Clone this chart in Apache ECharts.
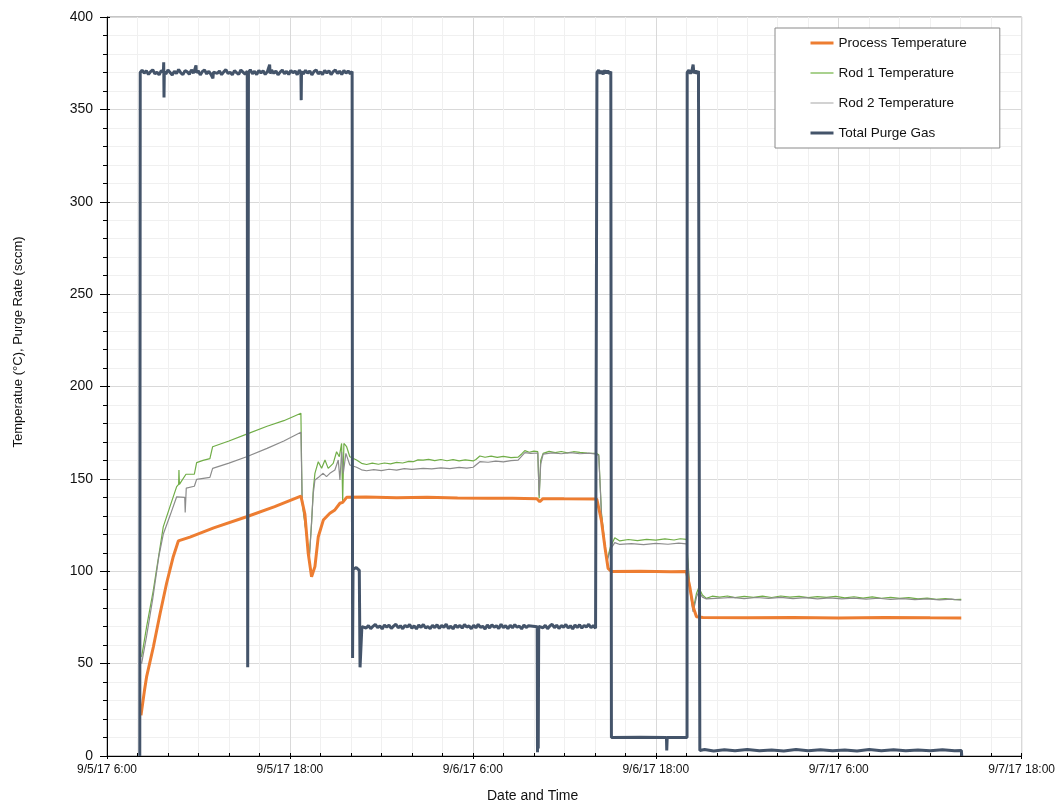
<!DOCTYPE html>
<html>
<head>
<meta charset="utf-8">
<script src="https://cdn.jsdelivr.net/npm/echarts@6/dist/echarts.min.js"></script>
<style>html,body{margin:0;padding:0;background:#fff}#c{width:1058px;height:805px}</style>
</head>
<body>
<div id="c"></div>
<script>
// x values: hours elapsed since 9/5/17 6:00
var xTickLabels = ['9/5/17 6:00', '9/5/17 18:00', '9/6/17 6:00', '9/6/17 18:00', '9/7/17 6:00', '9/7/17 18:00'];
var seriesNames = ['Process Temperature', 'Rod 1 Temperature', 'Rod 2 Temperature', 'Total Purge Gas'];

var processTemp = [
  [2.23,22],[2.45,35],[2.6,43],[3.04,59],[3.48,77],[3.91,93.5],[4.35,108],[4.68,116.4],[5.44,118.5],
  [7.0,123.5],[9.16,129.5],[11.0,135],[12.72,140.7],[12.98,131],[13.2,109.7],[13.42,97],[13.64,102.5],
  [13.86,118.7],[14.19,127.7],[14.62,131.4],[14.95,133.2],[15.28,136.8],[15.46,137.3],[15.72,140],
  [17,140.2],[19,139.8],[21,140],[23,139.7],[25,139.5],[26.6,139.5],[28.2,139.3],[28.39,137.6],[28.6,139.3],
  [30,139.2],[32.13,139.1],[32.2,139.1],[32.43,127.7],[32.66,113.3],[32.87,101.6],[33.1,99.8],[35,100],
  [37,99.7],[38.01,99.8],[38.23,91.6],[38.45,80.8],[38.67,75.4],[39.1,75],[42,74.8],[45,75],[48,74.7],
  [51,75],[54,74.8],[56.04,74.7]
];

var rod1Temp = [
  [2.27,53.7],[2.6,70],[3.04,89.8],[3.69,124],[4.13,135],[4.57,145.8],[4.7,147],[4.72,154.8],[4.75,147],
  [5.18,152.5],[5.73,152.5],[5.88,158.8],[6.3,160],[6.75,161],[6.93,167.4],[8.0,170.5],[9.16,174.2],
  [10.5,178.5],[11.6,181.5],[12.72,185.5],[12.8,137],[13.27,108],[13.42,125.9],[13.53,144],[13.64,153],
  [13.86,159.3],[14.08,155.7],[14.3,160.2],[14.51,155.7],[14.84,158.4],[15.06,164.7],[15.24,162],[15.39,169.2],
  [15.46,137.6],[15.54,169.2],[15.72,167.4],[15.93,162],[16.37,160.2],[16.7,158.4],[17.03,157.8],[17.4,158.5],
  [17.8,157.9],[18.2,158.6],[18.6,158.1],[19.0,158.9],[19.4,158.6],[19.8,159.5],[20.09,159.3],[20.4,160.3],
  [20.74,160.1],[21.1,160.6],[21.5,159.9],[21.9,160.5],[22.3,159.8],[22.7,160.4],[23.1,159.7],[23.5,160.3],
  [24.02,159.7],[24.2,160.5],[24.46,162.4],[24.8,161.7],[25.2,162.3],[25.6,161.6],[26.0,162.2],[26.5,161.5],
  [26.97,161.8],[27.2,163.5],[27.41,165.3],[27.7,164.4],[28.0,165.0],[28.26,164.7],[28.35,139.5],[28.45,160],
  [28.61,163.8],[29.0,164.9],[29.4,164.2],[29.8,164.8],[30.2,164.1],[30.6,164.7],[31.02,164.3],[31.5,164.0],
  [32.11,163.8],[32.26,163],[32.44,131.4],[32.72,109.7],[32.83,107],[33.03,113.3],[33.31,118.1],[33.64,116.4],
  [34.2,117.2],[34.8,116.6],[35.4,117.3],[36.0,116.8],[36.6,117.5],[37.2,116.9],[37.6,117.6],[38.01,117.3],
  [38.08,117.3],[38.23,91.6],[38.45,79],[38.67,88],[38.82,91.2],[39.06,87.1],[39.32,85.3],[39.7,86.5],
  [40.2,86.0],[40.7,86.6],[41.2,85.7],[41.8,86.4],[42.4,85.9],[43,86.5],[43.6,85.8],[44.2,86.6],[44.8,86.0],
  [45.4,86.4],[46,85.7],[46.6,86.3],[47.2,85.9],[47.8,86.4],[48.4,85.6],[49,86.2],[49.6,85.5],[50.2,86.1],
  [50.8,85.4],[51.4,85.9],[52,85.3],[52.6,85.7],[53.2,85.0],[53.8,85.5],[54.4,84.8],[55,85.2],[55.6,84.6],
  [56.04,84.8]
];

var rod2Temp = [
  [2.27,50],[2.6,65],[3.0,85],[3.4,108],[3.69,120],[4.13,130],[4.57,140.3],[5.1,140],[5.13,131.8],[5.2,145],
  [5.73,146],[5.88,149.7],[6.75,150.8],[6.93,155.7],[8.0,158.5],[9.16,162],[10.5,166.5],[11.6,170.5],
  [12.72,175.2],[12.8,140],[13.27,106],[13.53,142],[13.64,149.4],[13.92,151.2],[14.18,153],[14.4,151.2],
  [14.62,153],[14.95,154.8],[15.17,160.2],[15.28,149.4],[15.39,164.7],[15.5,153],[15.67,163.8],[15.93,157.5],
  [16.37,156.3],[16.7,154.9],[17.03,154.4],[17.5,155.0],[18.0,154.5],[18.5,155.2],[19.0,154.7],[19.5,155.5],
  [20.0,155.1],[20.74,155.7],[21.3,155.4],[21.9,156.0],[22.5,155.5],[23.1,156.2],[23.6,155.8],[24.02,156.3],
  [24.46,159.3],[25.0,159.0],[25.5,159.6],[26.0,159.2],[26.5,159.9],[26.97,160.2],[27.41,164.2],[27.8,163.8],
  [28.26,164],[28.35,141],[28.45,158],[28.61,163.4],[29.2,164.1],[29.8,163.6],[30.4,164.2],[31.02,163.6],
  [31.6,163.9],[32.11,163.4],[32.26,162.5],[32.44,130],[32.72,110],[32.83,106],[33.03,112],[33.31,115.5],
  [33.64,114.5],[34.4,115.0],[35.2,114.4],[36.0,115.1],[36.8,114.6],[37.5,115.2],[38.01,114.8],[38.23,90],
  [38.45,78],[38.67,86],[38.82,89],[39.06,86],[39.32,85],[40.2,85.4],[41,85.9],[41.8,85.2],[42.6,85.8],
  [43.4,85.3],[44.2,85.9],[45,85.2],[45.8,85.7],[46.6,85.1],[47.4,85.6],[48.2,85.0],[49,85.5],[49.8,84.9],
  [50.6,85.4],[51.4,84.8],[52.2,85.2],[53,84.6],[53.8,85.1],[54.6,84.5],[55.4,84.9],[56.04,84.3]
];

var purgeGas = [
  [2.15,0],[2.18,370],[2.30,371.2],[2.44,369.6],[2.58,370.9],[2.72,368.9],[2.86,370.4],[3.00,371.4],[3.14,369.3],
  [3.28,370.1],[3.42,368.7],[3.56,371.0],[3.70,370.2],[3.72,375.5],[3.74,356.5],[3.76,370.4],[3.86,369.1],
  [4.00,371.3],[4.14,370.0],[4.28,368.6],[4.42,370.7],[4.56,369.4],[4.70,371.6],[4.84,369.8],[4.98,368.8],
  [5.12,371.0],[5.26,370.3],[5.40,369.0],[5.54,371.4],[5.68,369.6],[5.84,373.8],[5.86,369.8],[5.98,370.9],
  [6.12,368.7],[6.26,370.5],[6.40,371.3],[6.54,369.2],[6.68,370.6],[6.82,368.9],[6.95,366.8],[6.98,370.2],
  [7.10,371.2],[7.24,369.5],[7.38,370.8],[7.52,368.8],[7.66,370.3],[7.80,371.5],[7.94,369.4],[8.08,370.1],
  [8.22,368.7],[8.36,371.0],[8.50,369.9],[8.64,368.9],[8.78,371.3],[8.92,370.2],[9.06,369.1],[9.20,370.7],
  [9.23,48],[9.26,48],[9.28,370.0],[9.40,371.4],[9.54,369.3],[9.68,370.6],[9.82,368.8],[9.96,371.1],
  [10.10,369.7],[10.24,370.9],[10.38,368.9],[10.52,370.4],[10.67,374.2],[10.70,369.4],[10.80,371.2],
  [10.94,369.5],[11.08,370.8],[11.22,368.7],[11.36,370.2],[11.50,371.3],[11.64,369.3],[11.78,370.6],
  [11.92,368.9],[12.06,371.0],[12.20,369.8],[12.34,370.7],[12.48,368.8],[12.62,371.2],[12.72,370.0],
  [12.74,355],[12.76,370.3],[12.88,369.2],[13.02,371.1],[13.16,369.6],[13.30,370.8],[13.44,368.7],
  [13.58,370.5],[13.72,371.4],[13.86,369.2],[14.00,370.3],[14.14,368.9],[14.28,371.1],[14.42,369.7],
  [14.56,370.9],[14.70,368.8],[14.84,370.4],[14.98,371.3],[15.12,369.4],[15.26,370.7],[15.40,368.9],
  [15.54,371.0],[15.68,369.6],[15.82,370.8],[15.96,369.3],[16.08,370.5],
  [16.11,53],[16.14,101],[16.35,102],[16.55,100.5],[16.6,48],[16.66,48],
  [16.72,70],[16.85,71.0],[17.00,69.3],[17.15,70.6],[17.30,68.9],[17.45,70.2],[17.60,71.2],[17.75,69.5],
  [17.90,70.4],[18.05,68.8],[18.20,70.9],[18.35,69.7],[18.50,70.8],[18.65,69.0],[18.80,70.3],[18.95,71.3],
  [19.10,69.4],[19.25,70.5],[19.40,68.9],[19.55,70.7],[19.70,69.8],[19.85,71.1],[20.00,69.2],[20.15,70.4],
  [20.30,68.8],[20.45,70.9],[20.60,69.6],[20.75,71.2],[20.90,69.3],[21.05,70.1],[21.20,68.9],[21.35,70.8],
  [21.50,69.5],[21.65,71.0],[21.80,69.1],[21.95,70.6],[22.10,69.7],[22.25,71.3],[22.40,69.0],[22.55,70.3],
  [22.70,68.8],[22.85,70.9],[23.00,69.6],[23.15,70.7],[23.30,69.2],[23.45,71.1],[23.60,69.8],[23.75,70.4],
  [23.90,68.9],[24.05,70.8],[24.20,69.4],[24.35,71.2],[24.50,69.6],[24.65,70.2],[24.80,68.8],[24.95,70.9],
  [25.10,69.3],[25.25,71.0],[25.40,69.7],[25.55,70.5],[25.70,69.0],[25.85,71.3],[26.00,69.5],[26.15,70.6],
  [26.30,68.9],[26.45,70.8],[26.60,69.4],[26.75,71.1],[26.90,69.7],[27.05,70.3],[27.20,68.8],[27.35,70.9],
  [27.50,69.6],[27.65,70.5],[28.22,70],[28.24,2],[28.27,62],[28.29,4],[28.32,70.2],[28.45,71.1],[28.60,69.4],
  [28.75,70.7],[28.90,68.9],[29.05,70.4],[29.20,71.3],[29.35,69.5],[29.50,70.8],[29.65,69.0],[29.80,70.6],
  [29.95,69.7],[30.10,71.2],[30.25,69.3],[30.40,70.5],[30.55,68.8],[30.70,70.9],[30.85,69.6],[31.00,71.0],
  [31.15,69.2],[31.30,70.7],[31.45,69.8],[31.60,71.3],[31.75,69.4],[31.90,70.6],[32.05,69.1],[32.13,70],
  [32.14,370],[32.25,371.2],[32.35,369.4],[32.45,370.8],[32.55,369.0],[32.65,371.1],[32.75,369.6],
  [32.85,370.9],[32.95,369.3],[33.05,370.5],[33.08,370],[33.09,10],[35.0,10.2],[36.7,10],[36.72,3],
  [36.75,10],[38.05,10],[38.06,370],[38.17,371.2],[38.27,369.4],[38.37,370.9],[38.45,374.2],[38.5,369.5],
  [38.6,371],[38.7,369.3],[38.8,370.8],[38.88,370],[38.89,3],[39.2,3.5],[39.8,2.7],[40.5,3.4],[41.2,2.8],
  [42,3.5],[42.8,2.9],[43.6,3.3],[44.4,2.7],[45.2,3.5],[46,2.9],[46.8,3.4],[47.6,2.8],[48.4,3.3],[49.2,2.7],
  [50,3.5],[50.8,2.9],[51.6,3.4],[52.4,2.8],[53.2,3.3],[54,2.9],[54.8,3.4],[55.6,2.8],[56.05,3],[56.07,0]
];

var chart = echarts.init(document.getElementById('c'), null, {renderer: 'canvas'});
var FONT = 'Liberation Sans, Arial, sans-serif';
var option = {
  animation: false,
  backgroundColor: '#fff',
  grid: {left: 107, right: 36, top: 17, bottom: 49, show: true, borderColor: '#8a8a8a', borderWidth: 1},
  legend: {
    orient: 'vertical', left: 775, top: 28,
    padding: [8, 33, 8, 34], itemGap: 16, itemWidth: 23, itemHeight: 14,
    backgroundColor: '#fff', borderColor: '#8a8a8a', borderWidth: 1,
    itemStyle: {opacity: 0},
    textStyle: {fontFamily: FONT, fontSize: 13.5, color: '#111'},
    data: [
      {name: seriesNames[0], itemStyle: {opacity: 0}, lineStyle: {color: '#ED7D31', width: 3}},
      {name: seriesNames[1], itemStyle: {opacity: 0}, lineStyle: {color: '#A9D18E', width: 2}},
      {name: seriesNames[2], itemStyle: {opacity: 0}, lineStyle: {color: '#A5A5A5', width: 1}},
      {name: seriesNames[3], itemStyle: {opacity: 0}, lineStyle: {color: '#44546A', width: 3}}
    ]
  },
  xAxis: [{
    type: 'value', min: 0, max: 60, interval: 12,
    axisLine: {show: true, onZero: false, lineStyle: {color: '#000', width: 1}},
    axisTick: {show: true, length: 3, lineStyle: {color: '#000'}},
    minorTick: {show: true, splitNumber: 6, length: 0},
    axisLabel: {fontFamily: FONT, fontSize: 12, color: '#111', margin: 8,
      formatter: function (v) { return xTickLabels[Math.round(v / 12)]; }},
    splitLine: {show: true, lineStyle: {color: '#d9d9d9', width: 1}},
    minorSplitLine: {show: true, lineStyle: {color: '#f0f0f0', width: 1}}
  }, {
    type: 'value', min: 0, max: 60, interval: 12, position: 'bottom',
    axisLine: {show: false},
    axisTick: {show: true, inside: true, length: 3, lineStyle: {color: '#000'}},
    minorTick: {show: true, splitNumber: 6, length: 3, lineStyle: {color: '#000'}},
    axisLabel: {show: false}, splitLine: {show: false}
  }],
  yAxis: [{
    type: 'value', min: 0, max: 400, interval: 50,
    axisLine: {show: true, onZero: false, lineStyle: {color: '#000', width: 1}},
    axisTick: {show: true, length: 7, lineStyle: {color: '#000'}},
    minorTick: {show: true, splitNumber: 5, length: 4, lineStyle: {color: '#000'}},
    axisLabel: {fontFamily: FONT, fontSize: 14, color: '#111', margin: 14},
    splitLine: {show: true, lineStyle: {color: '#d9d9d9', width: 1}},
    minorSplitLine: {show: true, lineStyle: {color: '#f0f0f0', width: 1}}
  }, {
    type: 'value', min: 0, max: 400, interval: 50, position: 'left',
    axisLine: {show: false},
    axisTick: {show: true, inside: true, length: 3, lineStyle: {color: '#000'}},
    axisLabel: {show: false}, splitLine: {show: false}
  }],
  graphic: [
    {type: 'text', left: 534 - 47, top: 789, style: {text: 'Date and Time', font: '14px ' + FONT, fill: '#111'}},
    {type: 'text', x: 18, y: 342, rotation: Math.PI / 2,
      style: {text: 'Temperatue (\u00B0C), Purge Rate (sccm)', font: '13px ' + FONT, fill: '#111', align: 'center', verticalAlign: 'middle'}}
  ],
  series: [
    {name: seriesNames[0], type: 'line', data: processTemp, symbol: 'none', lineStyle: {color: '#ED7D31', width: 3}, itemStyle: {color: '#ED7D31'}, z: 3},
    {name: seriesNames[1], type: 'line', data: rod1Temp, symbol: 'none', lineStyle: {color: '#70AD47', width: 1.2}, itemStyle: {color: '#A9D18E'}, z: 2},
    {name: seriesNames[2], type: 'line', data: rod2Temp, symbol: 'none', lineStyle: {color: '#8c8c8c', width: 1.2}, itemStyle: {color: '#A5A5A5'}, z: 2},
    {name: seriesNames[3], type: 'line', data: purgeGas, symbol: 'none', lineStyle: {color: '#44546A', width: 3}, itemStyle: {color: '#44546A'}, z: 4}
  ]
};
chart.setOption(option);
</script>
</body>
</html>
